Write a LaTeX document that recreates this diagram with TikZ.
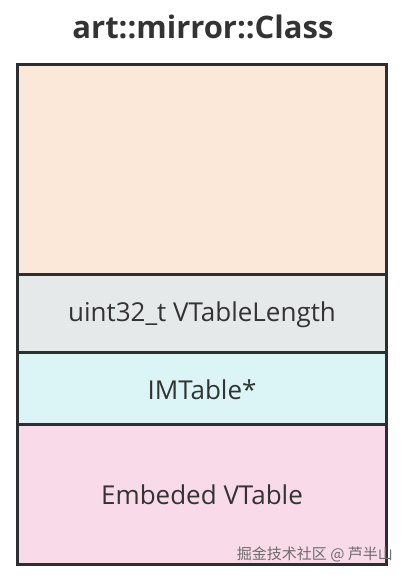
\documentclass[tikz,border=0pt]{standalone}
\usepackage{fontspec}
\setmainfont{Open Sans}
\newfontfamily\cjk{Noto Sans CJK SC}
\definecolor{txt}{HTML}{333333}
\definecolor{cOrange}{HTML}{FCE8D8}
\definecolor{cGrey}{HTML}{E6E9EA}
\definecolor{cCyan}{HTML}{DBF4F5}
\definecolor{cPink}{HTML}{F9DAE9}
\definecolor{edge}{HTML}{2B2F31}
\begin{document}
\begin{tikzpicture}[x=1pt,y=-1pt,
  cell/.style={draw=edge,line width=3pt},
  lbl/.style={text=txt,font=\fontsize{26}{30}\selectfont,inner sep=0pt}]
\useasboundingbox (0,0) rectangle (407,580);
\node[text=txt,font=\fontsize{31}{36}\selectfont\bfseries,inner sep=0pt] (title) at (203,27) {art::mirror::Class};
\filldraw[cell,fill=cOrange] (17.5,65) rectangle (386.5,274.5);
\filldraw[cell,fill=cGrey] (17.5,274.5) rectangle (386.5,352.5);
\filldraw[cell,fill=cCyan] (17.5,352.5) rectangle (386.5,424);
\filldraw[cell,fill=cPink] (17.5,424) rectangle (386.5,564.5);
\node[lbl] (len) at (202,315) {uint32\_t VTableLength};
\node[lbl] (imt) at (202,390) {IMTable*};
\node[lbl] (vt) at (202,495) {Embeded VTable};
\node[text=gray!85!black,font=\cjk\fontsize{15}{17}\selectfont,inner sep=0pt,anchor=east] (wm) at (393,554) {掘金技术社区 @ 芦半山};
\end{tikzpicture}
\end{document}
